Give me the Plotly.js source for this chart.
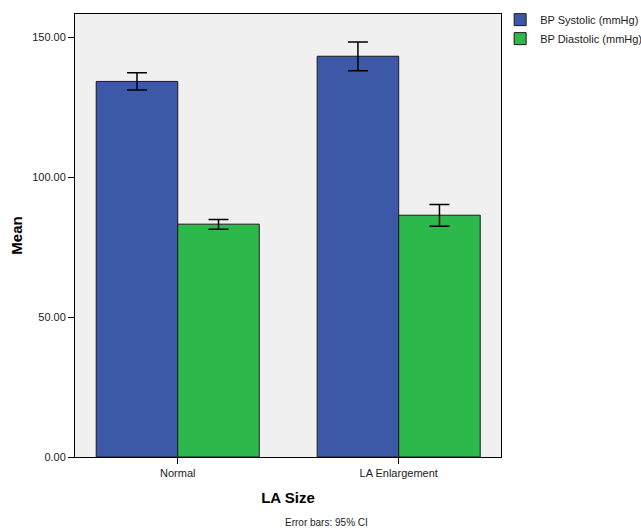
<!DOCTYPE html>
<html>
<head>
<meta charset="utf-8">
<script src="https://cdn.plot.ly/plotly-3.0.1.min.js"></script>
<style>html,body{margin:0;padding:0;background:#fff;overflow:hidden;}#chart{width:641px;height:530px;}</style>
</head>
<body>
<div id="chart"></div>
<script>
var categories = ["Normal", "LA Enlargement"];
var systolicMean = [134.2, 143.2];
var systolicLow = [131.1, 138.0];
var systolicHigh = [137.3, 148.3];
var diastolicMean = [83.2, 86.4];
var diastolicLow = [81.4, 82.5];
var diastolicHigh = [84.9, 90.2];
var seriesNames = ["BP Systolic (mmHg)", "BP Diastolic (mmHg)"];

function errs(mean, lo, hi) {
  return {
    type: 'data', symmetric: false,
    array: mean.map(function (m, i) { return hi[i] - m; }),
    arrayminus: mean.map(function (m, i) { return m - lo[i]; }),
    color: '#000', thickness: 1.5, width: 10
  };
}

var traces = [
  {type: 'bar', name: seriesNames[0], x: categories, y: systolicMean,
   marker: {color: '#3E58A8', line: {color: '#1a1a1a', width: 1}},
   error_y: errs(systolicMean, systolicLow, systolicHigh)},
  {type: 'bar', name: seriesNames[1], x: categories, y: diastolicMean,
   marker: {color: '#2DB84B', line: {color: '#1a1a1a', width: 1}},
   error_y: errs(diastolicMean, diastolicLow, diastolicHigh)}
];

var layout = {
  width: 641, height: 530,
  margin: {l: 75, r: 140, t: 14, b: 73, autoexpand: false},
  paper_bgcolor: '#fff', plot_bgcolor: '#F0F0F0',
  barmode: 'group', bargap: 0.262, bargroupgap: 0,
  font: {family: 'Arial, Liberation Sans, sans-serif', size: 11, color: '#222'},
  xaxis: {
    type: 'category', range: [-0.465, 1.463],
    showline: true, linecolor: '#000', linewidth: 1, mirror: true,
    ticks: 'outside', ticklen: 6, tickcolor: '#000', showgrid: false,
    tickfont: {size: 11, color: '#222'},
    title: {text: 'LA Size', font: {size: 15, color: '#000', weight: 'bold'}, standoff: 14}
  },
  yaxis: {
    range: [0, 158.3], tickvals: [0, 50, 100, 150], tickformat: '.2f',
    showline: true, linecolor: '#000', linewidth: 1, mirror: true,
    ticks: 'outside', ticklen: 6, tickcolor: '#000', showgrid: false, zeroline: false,
    tickfont: {size: 11, color: '#222'},
    title: {text: 'Mean', font: {size: 15, color: '#000', weight: 'bold'}, standoff: 5}
  },
  legend: {x: 0.998, y: 1.02, xanchor: 'left', yanchor: 'top',
    font: {size: 11, color: '#222'}, tracegroupgap: 0, itemwidth: 30,
    bgcolor: 'rgba(0,0,0,0)'},
  annotations: [{
    text: 'Error bars: 95% CI', xref: 'paper', yref: 'paper',
    x: 0.59, y: 0, yshift: -65, xanchor: 'center', yanchor: 'middle',
    showarrow: false, font: {size: 10, color: '#222'}
  }]
};

Plotly.newPlot('chart', traces, layout, {displayModeBar: false, staticPlot: true});
</script>
</body>
</html>
